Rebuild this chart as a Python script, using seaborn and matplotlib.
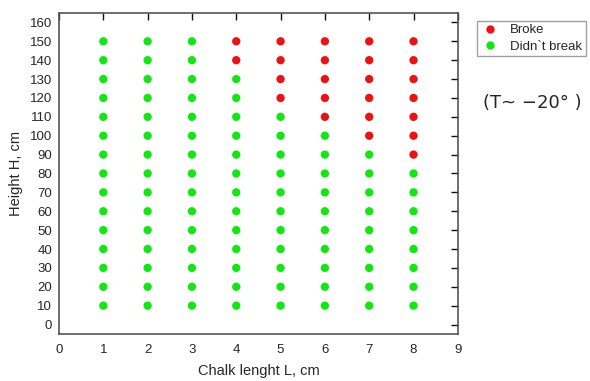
import matplotlib
matplotlib.use("Agg")
import matplotlib.pyplot as plt
import seaborn as sns
import pandas as pd
from matplotlib.lines import Line2D

# Chalk lengths tested (cm) and drop heights (cm)
lengths = [1, 2, 3, 4, 5, 6, 7, 8]
heights = [10, 20, 30, 40, 50, 60, 70, 80, 90, 100, 110, 120, 130, 140, 150]
# Lowest height at which a chalk of each length broke (None = never broke)
break_from = [None, None, None, 140, 120, 110, 100, 90]

labels = ["Broke", "Didn`t break"]
colors = {"Broke": "#ee1111", "Didn`t break": "#11e811"}

rows = []
for L, h0 in zip(lengths, break_from):
    for H in heights:
        outcome = "Broke" if (h0 is not None and H >= h0) else "Didn`t break"
        rows.append({"L": L, "H": H, "outcome": outcome})
df = pd.DataFrame(rows)

sns.set_style("white")
plt.rcParams["font.family"] = ["Liberation Sans", "DejaVu Sans"]

fig = plt.figure(figsize=(5.9, 3.81), dpi=100)
ax = fig.add_axes([0.1, 0.1234, 0.676, 0.8425])

sns.scatterplot(data=df, x="L", y="H", hue="outcome", hue_order=labels,
                palette=colors, s=36, linewidth=0, ax=ax, legend=False)

ax.set_xlim(0, 9)
ax.set_ylim(-5, 165)
ax.set_xticks(range(0, 10))
ax.set_yticks(range(0, 161, 10))
ax.tick_params(direction="in", length=5, width=1, color="#111111",
               labelsize=9.5, top=True, right=True, labeltop=False,
               labelright=False, pad=5)
ax.tick_params(axis="x", pad=7)
for s in ax.spines.values():
    s.set_color("#555555")
    s.set_linewidth(1.2)

ax.set_xlabel("Chalk lenght L, cm", fontsize=10.5, labelpad=6)
ax.set_ylabel("Height H, cm", fontsize=10.5, labelpad=5)

handles = [Line2D([], [], marker="o", linestyle="", markersize=6,
                  markerfacecolor=colors[k], markeredgewidth=0) for k in labels]
leg = fig.legend(handles, labels, loc="upper left",
                 bbox_to_anchor=(0.808, 0.945), fontsize=9.5, frameon=True,
                 fancybox=False, handletextpad=0.8, borderpad=0.25,
                 labelspacing=0.3, handlelength=1.5, borderaxespad=0)
leg.get_frame().set_edgecolor("#888888")
leg.get_frame().set_linewidth(1.0)

fig.text(0.902, 0.73, "(T~ \u221220\u00b0 )", fontsize=13, ha="center",
         va="center", family=["DejaVu Sans"])

fig.savefig("out.png", dpi=100)
